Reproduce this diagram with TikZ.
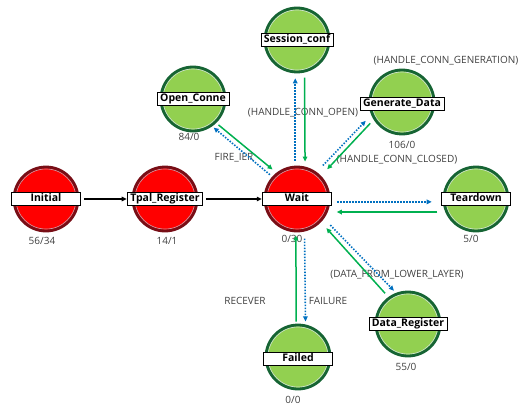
\documentclass[tikz,border=0pt]{standalone}
\usepackage{fontspec}
\setmainfont{Open Sans}
\usetikzlibrary{positioning,arrows.meta}

\definecolor{stred}{RGB}{255,0,0}
\definecolor{stredline}{RGB}{120,14,22}
\definecolor{stredrim}{RGB}{205,150,160}
\definecolor{stgreen}{RGB}{146,208,80}
\definecolor{stgreenline}{RGB}{22,100,52}
\definecolor{stgreenrim}{RGB}{205,225,205}
\definecolor{retgreen}{RGB}{0,176,80}
\definecolor{callblue}{RGB}{0,112,192}
\definecolor{txtgray}{RGB}{64,64,64}

\tikzset{
>={Triangle[length=5pt,width=4.5pt]},
shorten >=5pt,
shorten <=5pt,
ring/.style={circle, minimum size=64pt, inner sep=0pt, line width=2.8pt},
redstate/.style={ring, fill=stred, draw=stredline,
  path picture={\draw[stredrim, line width=0.8pt] (path picture bounding box.center) circle (30.1pt);}},
greenstate/.style={ring, fill=stgreen, draw=stgreenline,
  path picture={\draw[stgreenrim, line width=0.8pt] (path picture bounding box.center) circle (30.1pt);}},
tag/.style={draw=black, fill=white, line width=0.5pt, minimum width=69pt,
  inner xsep=3pt, inner ysep=1.5pt, text height=7.8pt, text depth=2pt,
  font=\fontsize{10.5}{12}\selectfont\bfseries},
count/.style={text=txtgray, inner sep=0pt, font=\fontsize{10}{12}\selectfont},
flow/.style={->, black, line width=1.4pt, shorten <=3pt, shorten >=0.5pt},
call/.style={->, callblue, line width=1.6pt, dash pattern=on 1.5pt off 1.5pt},
ret/.style={->, retgreen, line width=1.5pt},
}

\begin{document}
\begin{tikzpicture}[x=1pt, y=-1pt]
    \useasboundingbox (0,0) rectangle (526,406);

    % states
    \node[redstate] (init) at (46,199) {};
    \node[redstate] (tpal) at (165,199) {};
    \node[redstate] (wait) at (297,199) {};
    \node[greenstate] (sess) at (297,40) {};
    \node[greenstate] (open) at (193,99) {};
    \node[greenstate] (gen) at (402,102) {};
    \node[greenstate] (tear) at (476,199) {};
    \node[greenstate] (data) at (408,324) {};
    \node[greenstate] (fail) at (298,357) {};

    \node[tag] (init-tag) at (init) {Initial};
    \node[tag] (tpal-tag) at (tpal) {Tpal\_Register};
    \node[tag] (wait-tag) at (wait) {Wait};
    \node[tag] (sess-tag) at (sess) {Session\_conf};
    \node[tag] (open-tag) at (open) {Open\_Conne};
    \node[tag] (gen-tag) at ([yshift=-2pt]gen.center) {Generate\_Data};
    \node[tag] (tear-tag) at (tear) {Teardown};
    \node[tag] (data-tag) at (data) {Data\_Register};
    \node[tag] (fail-tag) at ([yshift=-2pt]fail.center) {Failed};

    % counters
    \node[count] (init-cnt) at (42,241) {56/34};
    \node[count] (tpal-cnt) at (167,241) {14/1};
    \node[count] (wait-cnt) at (292,239) {0/30};
    \node[count] (open-cnt) at (189,137) {84/0};
    \node[count] (gen-cnt) at (402,145) {106/0};
    \node[count] (tear-cnt) at (471,239) {5/0};
    \node[count] (data-cnt) at (406,367) {55/0};
    \node[count] (fail-cnt) at (293,400) {0/0};

    % event names
    \node[count] (lbl-fire) at (234,158) {FIRE\_IER};
    \node[count] (lbl-open) at (303,113) {(HANDLE\_CONN\_OPEN)};
    \node[count] (lbl-gen) at (446,61) {(HANDLE\_CONN\_GENERATION)};
    \node[count] (lbl-closed) at (397,160) {(HANDLE\_CONN\_CLOSED)};
    \node[count] (lbl-lower) at (397,275) {(DATA\_FROM\_LOWER\_LAYER)};
    \node[count] (lbl-recv) at (245,301) {RECEVER};
    \node[count] (lbl-fail) at (328,301) {FAILURE};

    \draw (init-tag) edge[flow] (tpal-tag);
    \draw (tpal-tag) edge[flow] (wait-tag);

    \draw (wait.93) edge[call] (sess.267);
    \draw (sess.283) edge[ret] (wait.76);
    \draw (wait.138) edge[call, shorten <=3pt, shorten >=2pt] (open.305);
    \draw (open.314) edge[ret, shorten <=3pt] (wait.128);
    \draw (wait.54) edge[call, shorten <=9pt, shorten >=8pt] (gen.203);
    \draw (gen.212) edge[ret, shorten >=9pt] (wait.44);
    \draw (wait.355) edge[call, shorten <=7pt, shorten >=11pt] (tear.185);
    \draw (tear.203) edge[ret, shorten <=8pt, shorten >=9pt] (wait.337);
    \draw (wait.324) edge[call, shorten <=9pt, shorten >=3pt] (data.111);
    \draw (data.126) edge[ret, shorten >=8pt] (wait.316);
    \draw (wait.283) edge[call, shorten <=7pt, shorten >=3pt] (fail.77);
    \draw (fail.93) edge[ret, shorten <=2pt, shorten >=3pt] (wait.268);

\end{tikzpicture}
\end{document}
